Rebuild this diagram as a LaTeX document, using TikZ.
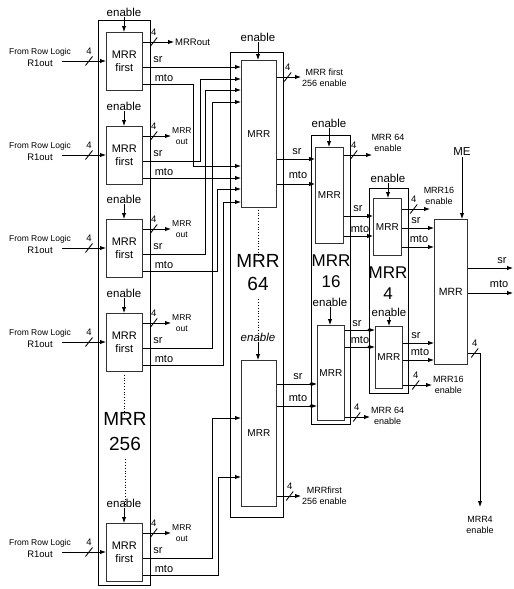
\documentclass[tikz,border=0pt]{standalone}
\usepackage{fontspec}
\setmainfont{Liberation Sans}
\usetikzlibrary{arrows.meta,calc}
\newcommand{\busslash}[2]{%
  \draw[slashln] ($(#1)+(-3.5,4.5)$) -- ($(#1)+(3.5,-4.5)$);
  \node[num] (#2) at ($(#1)+(0,-10)$) {4};}
\begin{document}
\begin{tikzpicture}[x=1pt,y=-1pt,
  ibox/.style={draw=black!80, line width=0.7pt, anchor=north west, inner sep=0pt, align=center, font=\fontsize{11}{12.5}\selectfont},
  obox/.style={draw, line width=1.1pt, anchor=north west, inner sep=0pt},
  conn/.style={line width=0.85pt},
  arr/.style={conn, -{Latex[length=6pt,width=4.4pt]}},
  enl/.style={font=\fontsize{11.5}{12}\selectfont, inner sep=1pt},
  sig/.style={font=\fontsize{11}{12}\selectfont, inner sep=0pt},
  num/.style={font=\fontsize{9.5}{10}\selectfont, inner sep=0pt},
  slashln/.style={line width=0.85pt},
  outl/.style={font=\fontsize{9}{11.5}\selectfont, align=center, inner sep=1pt},
  mout/.style={font=\fontsize{8.5}{11.5}\selectfont, align=center, anchor=west, inner sep=1pt},
  frl/.style={font=\fontsize{8.5}{9}\selectfont, inner sep=0pt},
  rl/.style={font=\fontsize{9.5}{10}\selectfont, inner sep=0pt},
  bigl/.style={align=center, inner sep=0pt},
  dotl/.style={line width=0.8pt, dotted},
  jdot/.style={fill=black}
]
\useasboundingbox (0,0) rectangle (514,589);

% ================= MRR 256 column =================
\node[obox, minimum width=52pt, minimum height=565pt] (C256) at (98,20) {};
\foreach \i/\t in {1/32,2/126,3/219,4/313,5/523}{
  \node[ibox, minimum width=36pt, minimum height=58pt] (B\i) at (106,\t) {MRR\\first};
  \node[enl] (en\i) at (124,\t-20) {enable};
  \draw[arr] (en\i.south) -- (en\i.south |- B\i.north);
  \node[frl] (fr\i) at (40,\t+20) {From Row Logic};
  \node[rl] (r\i) at (40,\t+31) {R1out};
  \coordinate (ia\i) at (62,\t+29);
  \draw[arr] (ia\i) -- (ia\i -| B\i.west);
  \coordinate (is\i) at (89,\t+29);
  \busslash{is\i}{n\i}
  \coordinate (os\i) at ($(B\i.north east)+(0,10)$);
  \coordinate (osl\i) at ($(B\i.north east)+(11,10)$);
  \busslash{osl\i}{no\i}
  \coordinate (sr\i) at ($(B\i.north east)+(0,35)$);
  \coordinate (mt\i) at ($(B\i.north east)+(0,52)$);
  \node[sig] (lsr\i) at (158,\t+28) {sr};
  \node[sig] (lmt\i) at (164,\t+46) {mto};
}
\node[anchor=west, font=\fontsize{9.5}{10}\selectfont, inner sep=1pt] (mo1) at (174,42) {MRRout};
\draw[arr] (os1) -- (os1 -| mo1.west);
\foreach \i/\t in {2/126,3/219,4/313,5/523}{
  \node[mout] (mo\i) at (171,\t+10) {MRR\\out};
  \draw[arr] (os\i) -- (os\i -| mo\i.west);
}
\node[bigl, font=\fontsize{19}{25}\selectfont] (L256) at (125,432) {MRR\\256};
\draw[dotl] ([yshift=-3pt]B4.south) -- ([yshift=-3pt]B4.south |- L256.north);
\draw[dotl] ([yshift=-8pt]L256.south) -- ([yshift=-8pt]L256.south |- en5.north);

% ================= MRR 64 column =================
\node[obox, minimum width=53pt, minimum height=465pt] (C64) at (230,52) {};
\node[ibox, font=\fontsize{10}{12}\selectfont, minimum width=35pt, minimum height=147pt] (T64) at (241,60) {MRR};
\node[ibox, font=\fontsize{10}{12}\selectfont, minimum width=35pt, minimum height=146pt] (B64) at (241,360) {MRR};
\node[enl] (e64a) at (258,37) {enable};
\draw[arr] (e64a.south) -- (e64a.south |- T64.north);
\node[enl, font=\fontsize{11.5}{12}\selectfont\itshape] (e64b) at (258,337) {enable};
\draw[arr] (e64b.south) -- (e64b.south |- B64.north);
\node[bigl, font=\fontsize{19}{23}\selectfont] (L64) at (258,273) {MRR\\64};
\draw[dotl] ([yshift=-2pt]T64.south) -- ([yshift=-2pt]T64.south |- L64.north);
\draw[dotl] ([yshift=-8pt]L64.south) -- ([yshift=-8pt]L64.south |- e64b.north);

\foreach \k/\d in {1/7,2/19,3/30,4/42,5/106,6/118,7/129,8/142}{
  \coordinate (t\k) at ($(T64.north west)+(0,\d)$);}
\coordinate (b1) at ($(B64.north west)+(0,58)$);
\coordinate (b2) at ($(B64.north west)+(0,117)$);

\draw[arr] (sr1) -- (sr1 -| T64.west);
\draw[arr] (mt1) -| ([xshift=-48pt]t5) -- (t5);
\draw[arr] (sr2) -| ([xshift=-41pt]t2) -- (t2);
\draw[arr] (mt2) -- (mt2 -| T64.west);
\draw[arr] (sr3) -| ([xshift=-36pt]t3) -- (t3);
\draw[arr] (mt3) -| ([xshift=-24pt]t7) -- (t7);
\draw[arr] (sr4) -| ([xshift=-29pt]t4) -- (t4);
\draw[arr] (mt4) -| ([xshift=-18pt]t8) -- (t8);
\draw[arr] (sr5) -| ([xshift=-29pt]b1) -- (b1);
\draw[arr] (mt5) -| ([xshift=-23pt]b2) -- (b2);

\coordinate (p64e) at ($(T64.north east)+(0,17)$);
\coordinate (p64sl) at ($(T64.north east)+(11,17)$);
\busslash{p64sl}{n64a}
\node[outl, anchor=west] (l64a) at (301,78) {MRR first\\256 enable};
\draw[arr] (p64e) -- (p64e -| l64a.west);
\coordinate (q64e) at ($(B64.north east)+(0,136)$);
\coordinate (q64sl) at ($(B64.north east)+(13,136)$);
\busslash{q64sl}{n64b}
\node[outl, anchor=west] (l64b) at (301,496) {MRRfirst\\256 enable};
\draw[arr] (q64e) -- (q64e -| l64b.west);

\coordinate (p64s) at ($(T64.north east)+(0,99)$);
\coordinate (p64m) at ($(T64.north east)+(0,124)$);
\coordinate (q64s) at ($(B64.north east)+(0,24)$);
\coordinate (q64m) at ($(B64.north east)+(0,46)$);
\node[sig] (s64a) at (297,152) {sr};
\node[sig] (m64a) at (298,175) {mto};
\node[sig] (s64b) at (298,377) {sr};
\node[sig] (m64b) at (298,398) {mto};

% ================= MRR 16 column =================
\node[obox, minimum width=39pt, minimum height=289pt] (C16) at (311,135) {};
\node[ibox, font=\fontsize{10}{12}\selectfont, minimum width=28pt, minimum height=96pt] (T16) at (315,147) {MRR};
\node[ibox, font=\fontsize{10}{12}\selectfont, minimum width=27pt, minimum height=95pt] (B16) at (317,325) {MRR};
\node[enl] (e16a) at (329,123) {enable};
\draw[arr] (e16a.south) -- (e16a.south |- T16.north);
\node[enl] (e16b) at (330,302) {enable};
\draw[arr] (e16b.south) -- (e16b.south |- B16.north);
\node[bigl, font=\fontsize{17}{21}\selectfont] (L16) at (331,271) {MRR\\16};

\draw[arr] (p64s) -- (p64s -| T16.west);
\draw[arr] (p64m) -- (p64m -| T16.west);
\draw[arr] (q64s) -- (q64s -| B16.west);
\draw[arr] (q64m) -- (q64m -| B16.west);
\fill[jdot] (p64s -| C16.west) circle (1.6);
\fill[jdot] (p64m -| C16.west) circle (1.6);
\fill[jdot] (q64s -| C16.west) circle (1.6);
\fill[jdot] (q64m -| C16.west) circle (1.6);

\coordinate (p16e) at ($(T16.north east)+(0,8)$);
\coordinate (p16sl) at ($(T16.north east)+(10,8)$);
\busslash{p16sl}{n16a}
\node[outl] (l16a) at (388,143) {MRR 64\\enable};
\coordinate (c16a) at (372,155);
\draw[arr] (p16e) -- (c16a);
\coordinate (q16e) at ($(B16.north east)+(0,92)$);
\coordinate (q16sl) at ($(B16.north east)+(12,92)$);
\busslash{q16sl}{n16b}
\node[outl, anchor=west] (l16b) at (370,416) {MRR 64\\enable};
\draw[arr] (q16e) -- (q16e -| l16b.west);

\coordinate (p16s) at ($(T16.north east)+(0,69)$);
\coordinate (p16m) at ($(T16.north east)+(0,89)$);
\coordinate (q16s) at ($(B16.north east)+(0,5)$);
\coordinate (q16m) at ($(B16.north east)+(0,22)$);
\node[sig] (s16a) at (358,209) {sr};
\node[sig] (m16a) at (360,229) {mto};
\node[sig] (s16b) at (357,324) {sr};
\node[sig] (m16b) at (360,340) {mto};

% ================= MRR 4 column =================
\node[obox, minimum width=39pt, minimum height=205pt] (C4) at (369,188) {};
\node[ibox, font=\fontsize{10}{12}\selectfont, minimum width=28pt, minimum height=57pt] (T4) at (373,198) {MRR};
\node[ibox, font=\fontsize{10}{12}\selectfont, minimum width=27pt, minimum height=62pt] (B4) at (375,326) {MRR};
\node[enl] (e4a) at (388,178) {enable};
\draw[arr] (e4a.south) -- (e4a.south |- T4.north);
\node[enl] (e4b) at (389,312) {enable};
\draw[arr] (e4b.south) -- (e4b.south |- B4.north);
\node[bigl, font=\fontsize{17}{21}\selectfont] (L4) at (388,283) {MRR\\4};

\draw[arr] (p16s) -- (p16s -| T4.west);
\draw[arr] (p16m) -- (p16m -| T4.west);
\draw[arr] (q16s) -- (q16s -| B4.west);
\draw[arr] (q16m) -- (q16m -| B4.west);
\fill[jdot] (p16s -| C4.west) circle (1.6);
\fill[jdot] (p16m -| C4.west) circle (1.6);
\fill[jdot] (q16s -| C4.west) circle (1.6);
\fill[jdot] (q16m -| C4.west) circle (1.6);

\coordinate (p4e) at ($(T4.north east)+(0,11)$);
\coordinate (p4sl) at ($(T4.north east)+(12,11)$);
\busslash{p4sl}{n4a}
\node[outl] (l4a) at (439,196) {MRR16\\enable};
\coordinate (c4a) at (430,209);
\draw[arr] (p4e) -- (c4a);
\coordinate (q4e) at ($(B4.north east)+(0,59)$);
\coordinate (q4sl) at ($(B4.north east)+(13,59)$);
\busslash{q4sl}{n4b}
\node[outl, anchor=west] (l4b) at (432,385) {MRR16\\enable};
\draw[arr] (q4e) -- (q4e -| l4b.west);

\coordinate (p4s) at ($(T4.north east)+(0,30)$);
\coordinate (p4m) at ($(T4.north east)+(0,49)$);
\coordinate (q4s) at ($(B4.north east)+(0,17)$);
\coordinate (q4m) at ($(B4.north east)+(0,34)$);
\node[sig] (s4a) at (416,221) {sr};
\node[sig] (m4a) at (419,239) {mto};
\node[sig] (s4b) at (416,336) {sr};
\node[sig] (m4b) at (420,352) {mto};

% ================= final MRR =================
\node[ibox, font=\fontsize{10.5}{12}\selectfont, minimum width=33pt, minimum height=145pt] (F) at (434,219) {MRR};
\node[enl] (me) at (462,152) {ME};
\draw[arr] (me.south) -- (me.south |- F.north);
\draw[arr] (p4s) -- (p4s -| F.west);
\draw[arr] (p4m) -- (p4m -| F.west);
\draw[arr] (q4s) -- (q4s -| F.west);
\draw[arr] (q4m) -- (q4m -| F.west);

\coordinate (fs) at ($(F.north east)+(0,49)$);
\coordinate (fse) at (513,268);
\draw[arr] (fs) -- (fse);
\coordinate (fm) at ($(F.north east)+(0,74)$);
\coordinate (fme) at (513,293);
\draw[arr] (fm) -- (fme);
\node[sig] (sf) at (502,261) {sr};
\node[sig] (mf) at (499,284) {mto};

\coordinate (fq) at ($(F.north east)+(0,134)$);
\coordinate (fqsl) at ($(F.north east)+(7,134)$);
\busslash{fqsl}{nf}
\coordinate (fqe) at (480,507);
\draw[arr] (fq) -| (fqe);
\node[outl] (l4f) at (480,525) {MRR4\\enable};
\end{tikzpicture}
\end{document}
